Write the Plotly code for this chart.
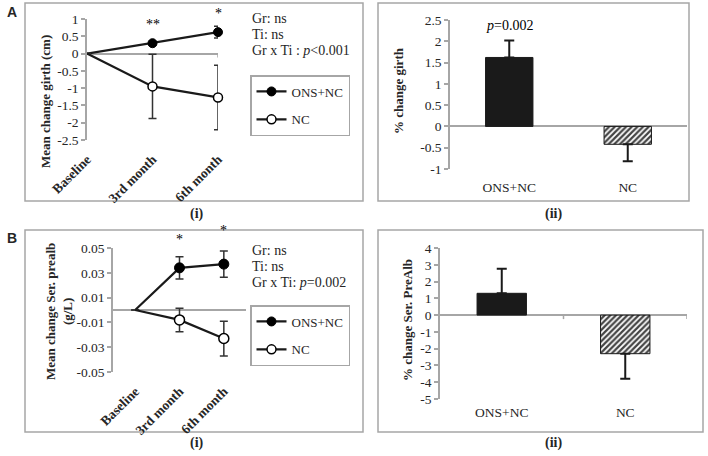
import plotly.graph_objects as go

# ---------------- data ----------------
time_points = ["Baseline", "3rd month", "6th month"]
groups = ["ONS+NC", "NC"]

girth_ons = [0, 0.30, 0.62]
girth_ons_err = [0, 0.05, 0.17]
girth_nc = [0, -0.95, -1.27]
girth_nc_err = [0, 0.93, 0.93]

pct_girth = [1.62, -0.42]
pct_girth_err = [0.40, 0.40]

prealb_ons = [0, 0.034, 0.037]
prealb_ons_err = [0, 0.009, 0.0105]
prealb_nc = [0, -0.008, -0.023]
prealb_nc_err = [0, 0.0095, 0.014]

pct_prealb = [1.3, -2.3]
pct_prealb_err = [1.47, 1.5]

girth_ticks = [1, 0.5, 0, -0.5, -1, -1.5, -2, -2.5]
pct_girth_ticks = [2.5, 2, 1.5, 1, 0.5, 0, -0.5, -1]
prealb_ticks = [0.05, 0.03, 0.01, -0.01, -0.03, -0.05]
pct_prealb_ticks = [4, 3, 2, 1, 0, -1, -2, -3, -4, -5]

# ---------------- helpers ----------------
W, H = 708, 456
def px(x):
    return x / W
def py(y):
    return 1 - y / H

SERIF = "Liberation Serif, Times New Roman, serif"
TXT = "#262626"
GRAY = "#a6a6a6"
DARK = "#1a1a1a"

def fmt(v):
    return f"{v:g}"

# no marker drawn at the baseline point
def msizes(n, s):
    return [0] + [s] * (n - 1)

fig = go.Figure()

def line_series(y, err, filled, size, xa, ya):
    fig.add_trace(go.Scatter(
        x=time_points, y=y, mode="lines+markers", showlegend=False,
        line=dict(color=DARK, width=2.2),
        marker=dict(color="#000000" if filled else "white", size=msizes(len(time_points), size),
                    line=dict(color="#000000", width=1 if filled else 1.5), opacity=1),
        error_y=dict(type="data", array=err, color="#333", thickness=1.5, width=4),
        xaxis=xa, yaxis=ya, cliponaxis=False))

def legend_entry(name, filled, xa, ya, leg, grp):
    fig.add_trace(go.Scatter(
        x=[None], y=[None], mode="lines+markers", name=name,
        line=dict(color=DARK, width=2.2),
        marker=dict(color="#000000" if filled else "white", size=9,
                    line=dict(color="#000000", width=1 if filled else 1.5)),
        xaxis=xa, yaxis=ya, legend=leg, legendgroup=grp, showlegend=True))

def bar_series(vals, errs, xa, ya):
    fig.add_trace(go.Bar(
        x=groups, y=vals, showlegend=False,
        marker=dict(color=[DARK, "white"], line=dict(color=DARK, width=1),
                    pattern=dict(shape=["", "/"], fgcolor="#000000", bgcolor="white",
                                 fgopacity=1, size=4, solidity=0.55)),
        error_y=dict(type="data", symmetric=False,
                     array=[e if v > 0 else 0 for v, e in zip(vals, errs)],
                     arrayminus=[e if v < 0 else 0 for v, e in zip(vals, errs)],
                     color=DARK, thickness=2, width=5),
        xaxis=xa, yaxis=ya))

# A(i)
line_series(girth_ons, girth_ons_err, True, 9, "x", "y")
line_series(girth_nc, girth_nc_err, False, 9, "x", "y")
legend_entry(groups[0], True, "x", "y", "legend", "a1")
legend_entry(groups[1], False, "x", "y", "legend", "a2")
# A(ii)
bar_series(pct_girth, pct_girth_err, "x2", "y2")
# B(i)
line_series(prealb_ons, prealb_ons_err, True, 10, "x3", "y3")
line_series(prealb_nc, prealb_nc_err, False, 10, "x3", "y3")
legend_entry(groups[0], True, "x3", "y3", "legend2", "b1")
legend_entry(groups[1], False, "x3", "y3", "legend2", "b2")
# B(ii)
bar_series(pct_prealb, pct_prealb_err, "x4", "y4")

def yax(dom, rng, ticks, anchor):
    return dict(domain=dom, range=rng, tickvals=ticks, ticktext=[fmt(t) for t in ticks],
                showline=True, linecolor=GRAY, linewidth=1.5, ticks="outside",
                ticklen=4, tickcolor=GRAY, tickwidth=1.5, showgrid=False,
                zeroline=True, zerolinecolor=GRAY, zerolinewidth=1.5,
                tickfont=dict(family=SERIF, size=13.5, color=TXT), anchor=anchor,
                automargin=False, fixedrange=True)

def xax(dom, rng, anchor, angle, bold, standoff, cats):
    return dict(domain=dom, range=rng, type="category", anchor=anchor,
                categoryorder="array", categoryarray=cats,
                showline=False, showgrid=False, zeroline=False, ticks="",
                tickangle=angle, ticklabelstandoff=standoff,
                tickfont=dict(family=SERIF, size=13.5, color=TXT,
                              weight="bold" if bold else "normal"),
                automargin=False, fixedrange=True)

legend_common = dict(xanchor="left", yanchor="top", bgcolor="white",
                     bordercolor=GRAY, borderwidth=1.5,
                     font=dict(family=SERIF, size=13, color=TXT),
                     traceorder="grouped", tracegroupgap=8, itemwidth=30)

fig.update_layout(
    width=W, height=H, margin=dict(l=0, r=0, t=0, b=0),
    paper_bgcolor="white", plot_bgcolor="white", bargap=0.6, hovermode=False,
    xaxis=xax([px(87), px(218)], [0, 2], "y", -45, True, 8, time_points),
    yaxis=yax([py(140), py(19)], [-2.5, 1], girth_ticks, "x"),
    xaxis2=xax([px(450), px(687)], [-0.5, 1.5], "y2", 0, False, 8, groups),
    yaxis2=yax([py(169), py(20)], [-1, 2.5], pct_girth_ticks, "x2"),
    xaxis3=xax([px(113), px(246)], [-0.5, 2.5], "y3", -45, True, 8, time_points),
    yaxis3=yax([py(372), py(248)], [-0.05, 0.05], prealb_ticks, "x3"),
    xaxis4=xax([px(440), px(687)], [-0.5, 1.5], "y4", 0, False, 3, groups),
    yaxis4=yax([py(399), py(248)], [-5, 4], pct_prealb_ticks, "x4"),
    legend=dict(x=px(250), y=py(75), **legend_common),
    legend2=dict(x=px(250), y=py(305), **legend_common),
    showlegend=True,
)

# panel borders
for (x0, y0, x1, y1) in [(25, 3, 363, 201), (378, 3, 689, 201),
                         (25, 230, 363, 432), (378, 230, 703, 432)]:
    fig.add_shape(type="rect", xref="paper", yref="paper",
                  x0=px(x0), x1=px(x1), y0=py(y1), y1=py(y0),
                  line=dict(color=GRAY, width=1.5), fillcolor="rgba(0,0,0,0)", layer="below")

# small category tick marks hanging below the zero line
for xr, yr, xpos in [("x", "y", 2), ("x4", "y4", 0.5), ("x4", "y4", 1.5)]:
    fig.add_shape(type="line", xref=xr, yref=yr, x0=xpos, x1=xpos,
                  ysizemode="pixel", yanchor=0, y0=0, y1=-4,
                  line=dict(color=GRAY, width=1.5))

ann = []
def paper_text(x, y, text, size=14, bold=False, family=SERIF, xanchor="center", angle=0):
    ann.append(dict(xref="paper", yref="paper", x=px(x), y=py(y), text=text,
                    showarrow=False, xanchor=xanchor, yanchor="middle", textangle=angle,
                    font=dict(family=family, size=size, color=TXT,
                              weight="bold" if bold else "normal")))

# panel letters
paper_text(12, 12, "A", size=14, bold=True, family="Liberation Sans, Arial, sans-serif")
paper_text(12, 238, "B", size=14, bold=True, family="Liberation Sans, Arial, sans-serif")
# sub labels
paper_text(197, 214, "(i)", size=14, bold=True)
paper_text(553, 214, "(ii)", size=14, bold=True)
paper_text(197, 443, "(i)", size=14, bold=True)
paper_text(553, 443, "(ii)", size=14, bold=True)
# axis titles
paper_text(45, 102, "Mean change girth (cm)", size=13, bold=True, angle=-90)
paper_text(398, 91, "% change girth", size=13, bold=True, angle=-90)
paper_text(59, 312, "Mean change Ser. prealb<br>(g/L)", size=13, bold=True, angle=-90)
paper_text(407, 320, "% change Ser. PreAlb", size=13, bold=True, angle=-90)
# stats text
paper_text(250, 19, "Gr: ns", xanchor="left")
paper_text(250, 35, "Ti: ns", xanchor="left")
paper_text(250, 51, "Gr x Ti : <i>p</i>&lt;0.001", xanchor="left")
paper_text(250, 250, "Gr: ns", xanchor="left")
paper_text(250, 266, "Ti: ns", xanchor="left")
paper_text(250, 282, "Gr x Ti: <i>p</i>=0.002", xanchor="left")

# significance marks (data coords, shifted above points)
def data_text(xr, yr, x, y, text, shift):
    ann.append(dict(xref=xr, yref=yr, x=x, y=y, text=text, showarrow=False,
                    xanchor="center", yanchor="middle", yshift=shift,
                    font=dict(family=SERIF, size=14, color="#000000")))
data_text("x", "y", time_points[1], girth_ons[1], "**", 19)
data_text("x", "y", time_points[2], girth_ons[2], "*", 19)
data_text("x3", "y3", time_points[1], prealb_ons[1], "*", 28)
data_text("x3", "y3", time_points[2], prealb_ons[2], "*", 34)
data_text("x2", "y2", groups[0], pct_girth[0], "<i>p</i>=0.002", 32)

fig.update_layout(annotations=ann)
fig.write_html("out.html", config={"displayModeBar": False},
               post_script="document.body.style.margin='0';")
